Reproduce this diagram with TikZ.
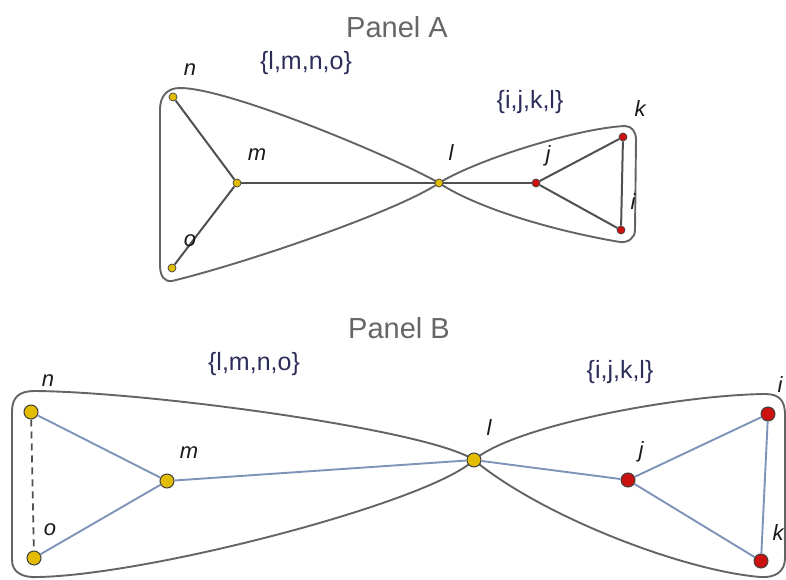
\documentclass[tikz,border=0pt]{standalone}
\usepackage{fontspec}
\setmainfont{Liberation Sans}
\definecolor{hullgray}{RGB}{100,100,100}
\definecolor{edgeA}{RGB}{80,80,80}
\definecolor{edgeB}{RGB}{125,147,184}
\definecolor{vyellow}{RGB}{226,188,0}
\definecolor{vred}{RGB}{204,17,17}
\definecolor{setink}{RGB}{45,45,90}
\begin{document}
\begin{tikzpicture}[x=1pt,y=-1pt,
    vtxA/.style={circle,draw=black!75,line width=0.7pt,inner sep=0pt,minimum size=8pt},
    vtxB/.style={circle,draw=black!75,line width=1pt,inner sep=0pt,minimum size=14pt},
    hull/.style={draw=hullgray,line width=1.9pt},
    lineA/.style={edgeA,line width=2pt},
    lineB/.style={edgeB,line width=1.9pt},
    vlabel/.style={font=\fontsize{22}{24}\selectfont\itshape,text=black!90},
    setlabel/.style={font=\fontsize{25}{27}\selectfont,text=setink},
    title/.style={font=\fontsize{29}{32}\selectfont,text=black!60}]
    \useasboundingbox (0,0) rectangle (786,580);
    % Panel A
    \node[title] (titleA) at (397,27) {Panel A};
    \draw[hull] (439,183) .. controls (400,160) and (230,88) .. (180,88)
        .. controls (168,88) and (160,95) .. (160,110) -- (160,265)
        .. controls (160,277) and (165,282) .. (172,281)
        .. controls (250,262) and (400,210) .. (439,183);
    \draw[hull] (439,183) .. controls (480,158) and (580,128) .. (625,126)
        .. controls (632,126) and (636,132) .. (636,140) -- (635,230)
        .. controls (635,238) and (628,243) .. (620,242)
        .. controls (560,232) and (480,210) .. (439,183);
    \node[vtxA,fill=vyellow] (nA) at (173,97) {};
    \node[vtxA,fill=vyellow] (mA) at (237,183) {};
    \node[vtxA,fill=vyellow] (oA) at (172,268) {};
    \node[vtxA,fill=vyellow] (lA) at (439,183) {};
    \node[vtxA,fill=vred] (jA) at (536,183) {};
    \node[vtxA,fill=vred] (kA) at (623,137) {};
    \node[vtxA,fill=vred] (iA) at (621,230) {};
    \draw[lineA] (nA) -- (mA) -- (oA);
    \draw[lineA] (mA) -- (lA) -- (jA);
    \draw[lineA] (jA) -- (kA) -- (iA) -- (jA);
    \node[vlabel] (nAl) at (190,70) {n};
    \node[vlabel] (mAl) at (257,155) {m};
    \node[vlabel] (oAl) at (190,241) {o};
    \node[vlabel] (lAl) at (451,153) {l};
    \node[vlabel] (jAl) at (548,156) {j};
    \node[vlabel] (kAl) at (640,109) {k};
    \node[vlabel] (iAl) at (633,202) {i};
    \node[setlabel] (setA1) at (306,63) {\{l,m,n,o\}};
    \node[setlabel] (setA2) at (530,102) {\{i,j,k,l\}};
    % Panel B
    \node[title] (titleB) at (399,328) {Panel B};
    \draw[hull] (474,460) .. controls (430,430) and (150,392) .. (35,391)
        .. controls (18,391) and (12,398) .. (12,412) -- (12,560)
        .. controls (12,572) and (22,578) .. (38,577)
        .. controls (150,575) and (430,502) .. (474,460);
    \draw[hull] (474,460) .. controls (515,425) and (680,395) .. (765,394)
        .. controls (779,394) and (785,400) .. (785,415) -- (785,558)
        .. controls (785,572) and (775,578) .. (760,577)
        .. controls (680,570) and (540,515) .. (474,460);
    \node[vtxB,fill=vyellow] (nB) at (31,412) {};
    \node[vtxB,fill=vyellow] (mB) at (167,481) {};
    \node[vtxB,fill=vyellow] (oB) at (34,558) {};
    \node[vtxB,fill=vyellow] (lB) at (474,460) {};
    \node[vtxB,fill=vred] (jB) at (628,480) {};
    \node[vtxB,fill=vred] (iB) at (768,414) {};
    \node[vtxB,fill=vred] (kB) at (761,561) {};
    \draw[lineB] (nB) -- (mB) -- (oB);
    \draw[lineB] (mB) -- (lB) -- (jB);
    \draw[lineB] (jB) -- (iB) -- (kB) -- (jB);
    \draw[edgeA,line width=1.8pt,dash pattern=on 7pt off 5pt] (nB) -- (oB); % dashed n-o
    \node[vlabel] (nBl) at (48,381) {n};
    \node[vlabel] (mBl) at (189,453) {m};
    \node[vlabel] (oBl) at (50,530) {o};
    \node[vlabel] (lBl) at (489,428) {l};
    \node[vlabel] (jBl) at (641,452) {j};
    \node[vlabel] (iBl) at (780,385) {i};
    \node[vlabel] (kBl) at (778,533) {k};
    \node[setlabel] (setB1) at (254,364) {\{l,m,n,o\}};
    \node[setlabel] (setB2) at (620,372) {\{i,j,k,l\}};
\end{tikzpicture}
\end{document}
